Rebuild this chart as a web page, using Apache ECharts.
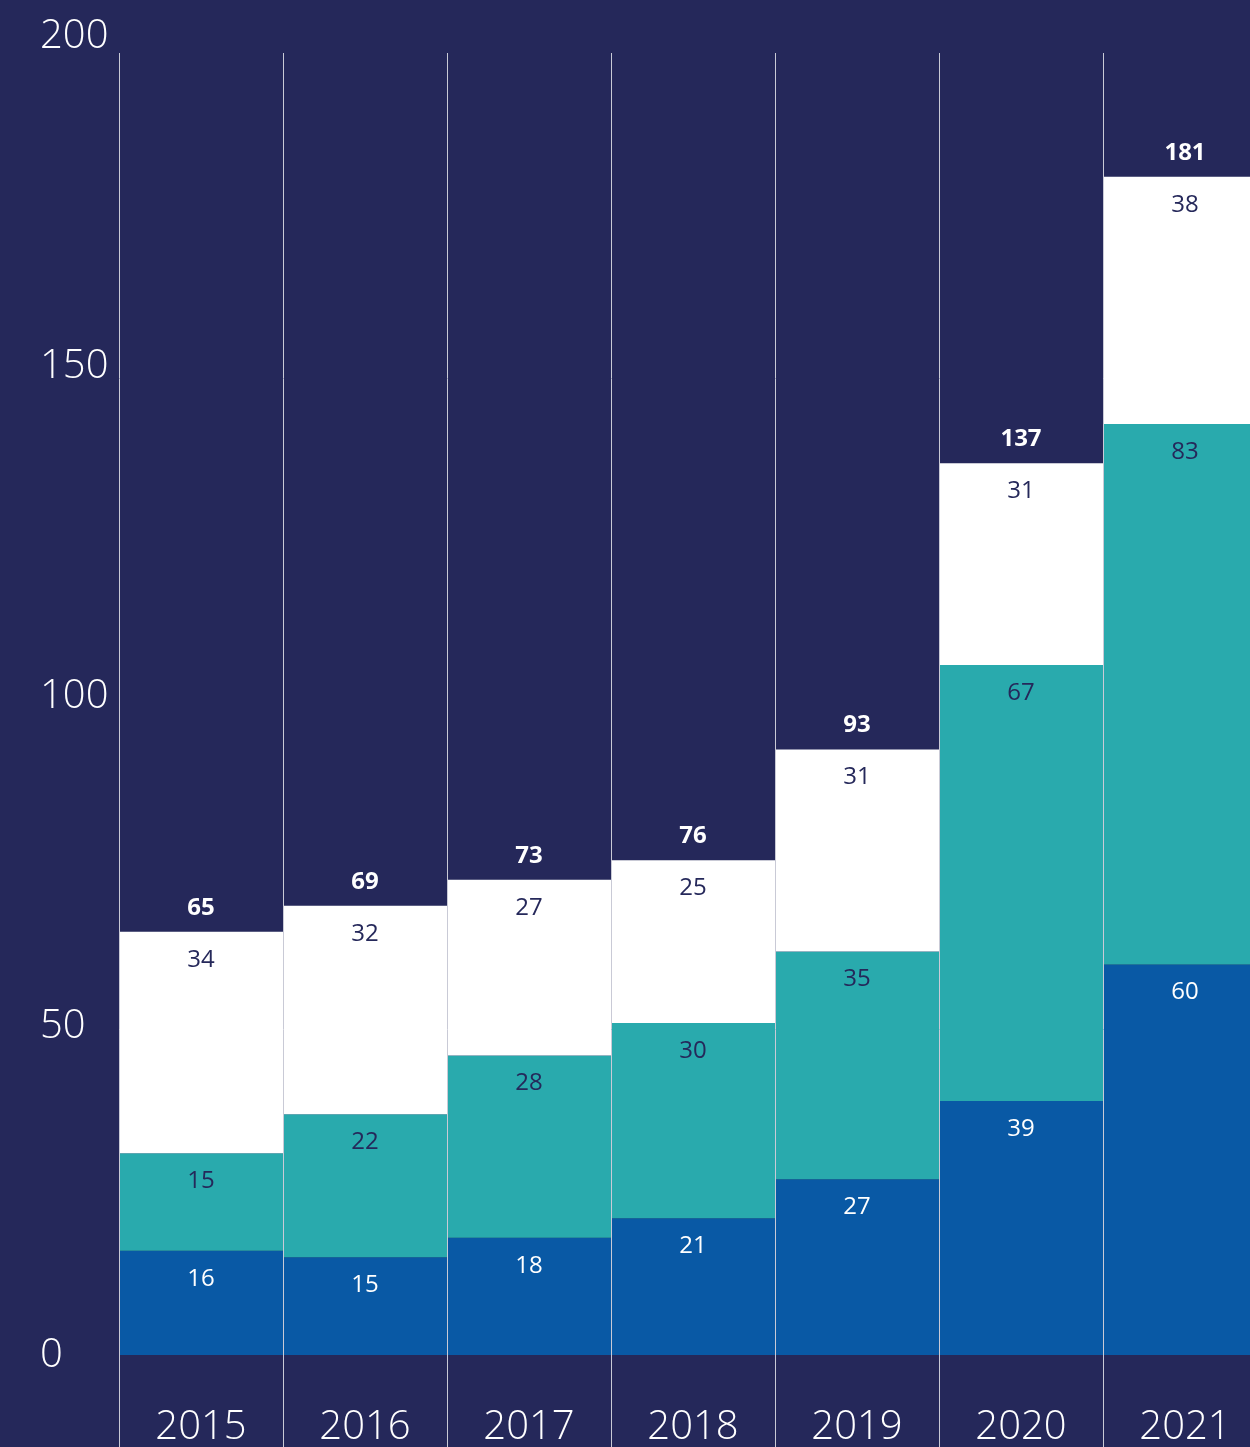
<!DOCTYPE html>
<html><head><meta charset="utf-8">
<script src="https://cdn.jsdelivr.net/npm/echarts@6/dist/echarts.min.js"></script>
<style>html,body{margin:0;padding:0;background:#25285A;}#c{width:1250px;height:1447px;}</style>
</head><body><div id="c"></div>
<script>
const years = ['2015','2016','2017','2018','2019','2020','2021'];
const darkBlue = [16,15,18,21,27,39,60];
const teal = [15,22,28,30,35,67,83];
const white = [34,32,27,25,31,31,38];
const totals = [65,69,73,76,93,137,181];
const yTicks = [0,50,100,150,200];

const FONT = 'Open Sans';
const chart = echarts.init(document.getElementById('c'));
chart.setOption({
  backgroundColor: '#25285A',
  animation: false,
  grid: [
    {left:119, width:1148, top:53, bottom:92, outerBoundsMode:'none', containLabel:false},
    {left:119, width:1148, top:37, bottom:91, outerBoundsMode:'none', containLabel:false}
  ],
  xAxis: [
    {type:'category', data:years, gridIndex:0, z:10,
     axisLine:{show:false},
     axisTick:{show:true, inside:false, length:92, interval:0, lineStyle:{color:'#c9cad6', width:1}},
     splitLine:{show:true, interval:0, lineStyle:{color:'#c9cad6', width:1}},
     axisLabel:{color:'#ffffff', fontSize:40, fontFamily:FONT, fontWeight:300, margin:53, interval:0}},
    {type:'category', data:years, gridIndex:1, show:false}
  ],
  yAxis: [
    {type:'value', gridIndex:0, min:0, max:200, interval:50, show:false},
    {type:'value', gridIndex:1, min:yTicks[0], max:yTicks[yTicks.length-1], interval:50,
     axisLine:{show:false}, axisTick:{show:false}, splitLine:{show:false},
     axisLabel:{color:'#ffffff', fontSize:40, fontFamily:FONT, fontWeight:300, align:'left', margin:79}}
  ],
  series: [
    {type:'bar', stack:'s', data:darkBlue, barWidth:'100%', barGap:'0%', barCategoryGap:'0%',
     itemStyle:{color:'#0959A5'},
     label:{show:true, position:'insideTop', distance:16, color:'#ffffff', fontSize:24, fontFamily:FONT, fontWeight:400}},
    {type:'bar', stack:'s', data:teal,
     itemStyle:{color:'#29AAAD'},
     label:{show:true, position:'insideTop', distance:16, color:'#25285A', fontSize:24, fontFamily:FONT, fontWeight:400}},
    {type:'bar', stack:'s', data:white,
     itemStyle:{color:'#ffffff'},
     label:{show:true, position:'insideTop', distance:16, color:'#25285A', fontSize:24, fontFamily:FONT, fontWeight:400}},
    {type:'scatter', data:totals, symbolSize:0, silent:true,
     itemStyle:{opacity:1, color:'#ffffff'},
     label:{show:true, position:'top', distance:12, color:'#ffffff', fontSize:24, fontFamily:FONT, fontWeight:700}}
  ]
});
</script></body></html>
